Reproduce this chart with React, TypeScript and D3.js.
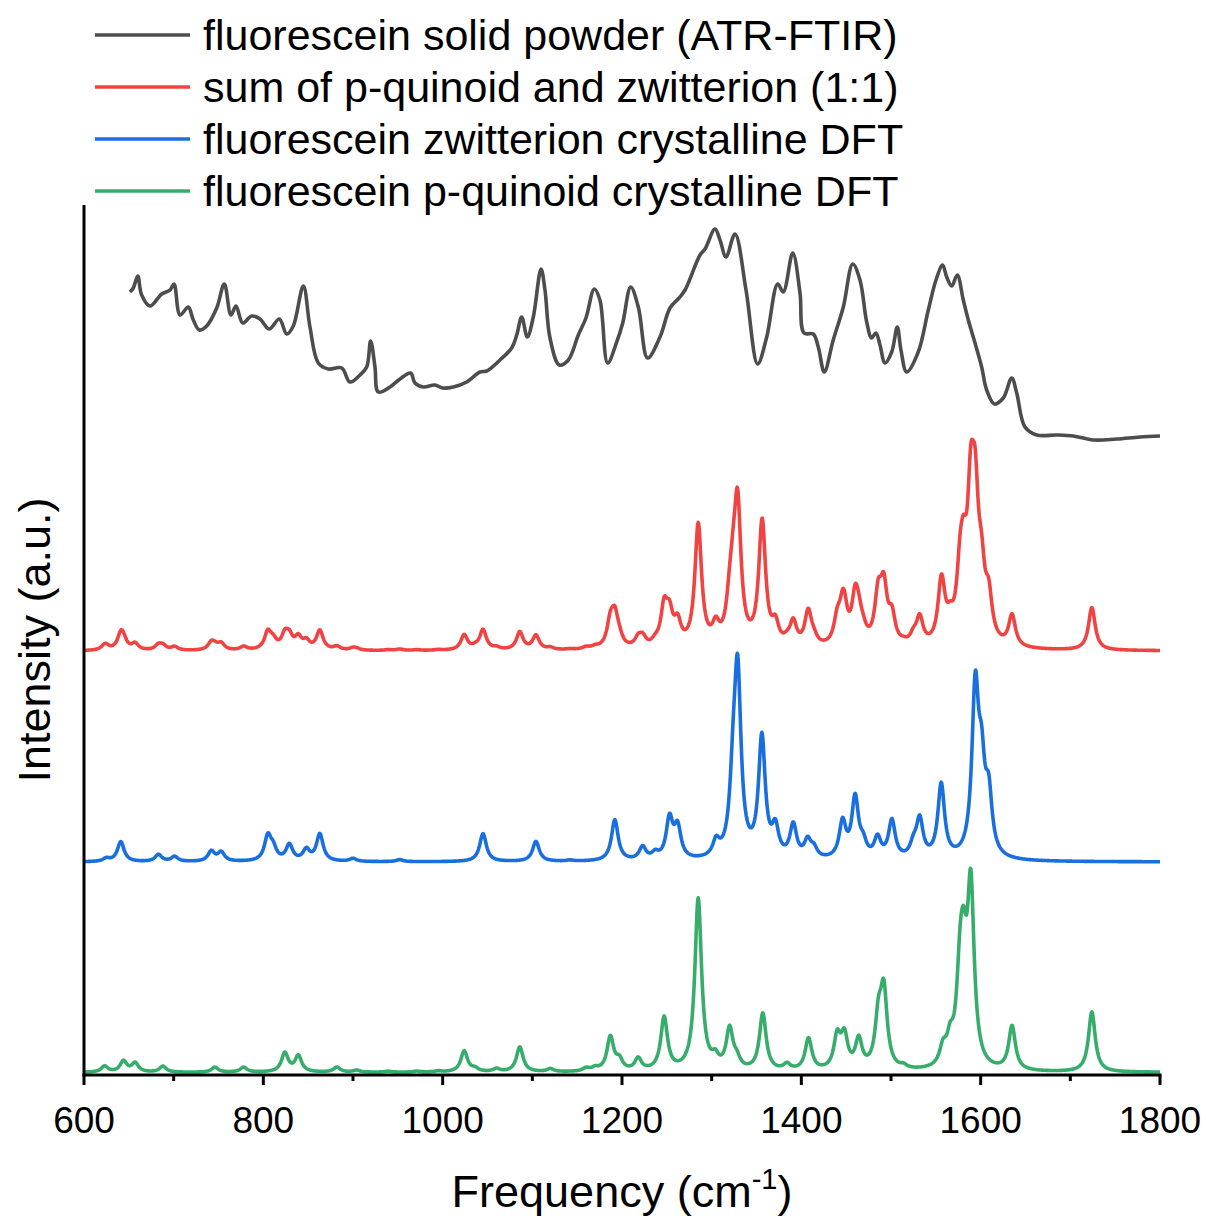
import React from 'react';
import * as d3 from 'd3';

const X_DOMAIN: [number, number] = [600, 1800];
const Y_DOMAIN: [number, number] = [0, 87];
const X_MAJOR = [600, 800, 1000, 1200, 1400, 1600, 1800];
const X_MINOR = [700, 900, 1100, 1300, 1500, 1700];

const LEGEND_LABELS = [
  'fluorescein solid powder (ATR-FTIR)',
  'sum of p-quinoid and zwitterion (1:1)',
  'fluorescein zwitterion crystalline DFT',
  'fluorescein p-quinoid crystalline DFT',
];
const COLORS = ['#4d4d4d', '#f24343', '#1a6fdf', '#37ad6b'];

// ATR-FTIR experimental spectrum (frequency, intensity a.u.)
const ATR_FREQ = [651.3, 655.0, 659.9, 664.3, 673.6, 686.7, 695.9, 700.4, 707.1, 716.3, 721.9, 728.6, 736.8, 748.0, 756.5, 763.9, 769.5, 777.0, 787.0, 796.3, 806.7, 817.8, 826.1, 833.4, 844.6, 852.0, 861.3, 872.4, 887.4, 896.6, 907.8, 915.3, 919.7, 924.5, 928.2, 941.3, 952.4, 964.3, 969.1, 978.4, 991.4, 1000.0, 1011.9, 1026.8, 1041.6, 1049.1, 1063.9, 1077.0, 1082.6, 1088.1, 1094.4, 1101.1, 1109.7, 1114.1, 1119.7, 1130.1, 1140.1, 1151.3, 1159.8, 1169.1, 1175.4, 1184.0, 1194.1, 1200.8, 1209.7, 1218.2, 1228.6, 1242.4, 1253.5, 1263.6, 1270.3, 1287.0, 1292.6, 1303.7, 1309.3, 1316.0, 1326.0, 1338.3, 1351.3, 1361.4, 1373.6, 1379.9, 1390.4, 1398.5, 1403.0, 1413.3, 1418.9, 1425.6, 1435.6, 1446.8, 1457.3, 1465.4, 1472.9, 1478.4, 1483.2, 1487.7, 1493.3, 1500.8, 1507.0, 1511.1, 1517.5, 1530.4, 1541.6, 1550.2, 1557.6, 1562.1, 1567.7, 1573.9, 1580.6, 1586.2, 1593.7, 1601.1, 1606.7, 1615.2, 1625.2, 1634.6, 1640.2, 1649.4, 1662.5, 1684.8, 1703.3, 1725.6, 1751.7, 1777.7, 1800.0];
const ATR_INT = [78.3, 78.7, 79.9, 78.0, 76.9, 78.1, 78.5, 79.1, 76.0, 76.8, 75.5, 74.5, 74.9, 76.7, 79.1, 76.0, 76.9, 75.2, 75.9, 75.6, 74.6, 75.6, 74.1, 74.9, 78.9, 74.8, 71.2, 70.6, 70.7, 69.3, 70.0, 70.8, 73.4, 70.8, 68.3, 68.8, 69.6, 70.2, 69.2, 68.8, 69.0, 68.7, 68.8, 69.3, 70.3, 70.4, 71.5, 72.7, 74.0, 75.8, 73.8, 75.8, 80.6, 78.5, 73.7, 71.0, 71.5, 74.0, 75.7, 78.6, 77.5, 71.2, 73.3, 75.2, 78.8, 76.8, 71.7, 73.8, 76.7, 77.7, 78.5, 82.0, 82.6, 84.6, 83.5, 81.8, 84.1, 78.5, 71.1, 73.8, 79.1, 78.3, 82.2, 78.2, 74.2, 74.1, 72.8, 70.3, 73.5, 76.8, 81.1, 79.5, 75.3, 73.7, 74.2, 73.0, 71.2, 72.3, 74.8, 72.5, 70.3, 72.3, 76.5, 79.5, 81.0, 79.8, 78.9, 80.0, 77.5, 75.5, 73.2, 70.8, 68.5, 67.1, 67.7, 69.7, 68.2, 64.8, 64.0, 64.0, 63.9, 63.5, 63.6, 63.8, 63.9];

// DFT computed bands: [frequency cm-1, intensity a.u.]
const ZW_PEAKS: [number, number][] = [
  [625, 0.3], [641, 2.0], [683, 0.7], [701, 0.5], [742, 1.0], [753, 0.9], [805, 2.4], [811, 1.1],
  [829, 1.6], [848, 1.1], [863, 2.7], [900, 0.3], [952, 0.2], [1045, 2.8], [1104, 2.0], [1142, 0.1],
  [1192, 4.1], [1223, 1.3], [1237, 0.6], [1253, 4.0], [1262, 3.1], [1305, 1.5], [1324, 6.0], [1329, 17.6],
  [1356, 12.0], [1371, 2.8], [1391, 3.3], [1407, 1.7], [1414, 0.9], [1446, 3.6], [1460, 6.0], [1469, 1.3],
  [1485, 2.0], [1501, 3.8], [1525, 1.2], [1532, 3.8], [1556, 7.4], [1594, 16.3], [1601, 7.5], [1609, 5.6],
];
const PQ_PEAKS: [number, number][] = [
  [623, 0.6], [644, 1.1], [657, 0.9], [688, 0.6], [746, 0.5], [778, 0.5], [824, 1.9], [839, 1.6],
  [882, 0.5], [904, 0.2], [939, 0.1], [971, 0.1], [995, 0.1], [1024, 2.1], [1036, 0.3], [1060, 0.3],
  [1086, 2.5], [1120, 0.3], [1160, 0.3], [1170, 0.3], [1187, 3.4], [1197, 1.0], [1218, 1.2], [1247, 5.3],
  [1285, 17.2], [1304, 1.0], [1320, 4.0], [1328, 0.9], [1357, 5.7], [1384, 0.6], [1408, 3.2], [1440, 3.2],
  [1448, 3.2], [1464, 2.9], [1486, 4.6], [1492, 7.4], [1514, 0.3], [1558, 1.7], [1566, 2.2], [1577, 7.5],
  [1581, 8.0], [1589, 17.3], [1635, 4.4], [1724, 6.0],
];
const FWHM = 9;
const SUM_FACTOR = 0.71;
const OFFSET_PQ = 0.25;
const OFFSET_ZW = 21.3;
const OFFSET_SUM = 42.4;

const GRID_STEP = 0.5;

function broaden(peaks: [number, number][], f: number): number {
  const g = FWHM / 2;
  let s = 0;
  for (const [c, h] of peaks) {
    const d = (f - c) / g;
    s += h / (1 + d * d);
  }
  return s;
}

export default function App() {
  const W = 1206;
  const H = 1216;
  const x = d3.scaleLinear().domain(X_DOMAIN).range([84, 1160]);
  const y = d3.scaleLinear().domain(Y_DOMAIN).range([1075, 205]);

  const grid = d3.range(X_DOMAIN[0], X_DOMAIN[1] + GRID_STEP / 2, GRID_STEP);
  const pq = grid.map((f) => [f, OFFSET_PQ + broaden(PQ_PEAKS, f)] as [number, number]);
  const zw = grid.map((f) => [f, OFFSET_ZW + broaden(ZW_PEAKS, f)] as [number, number]);
  const sum = grid.map((f) => [f, OFFSET_SUM + SUM_FACTOR * (broaden(PQ_PEAKS, f) + broaden(ZW_PEAKS, f))] as [number, number]);
  const atr = ATR_FREQ.map((f, i) => [f, ATR_INT[i]] as [number, number]);

  const line = d3.line<[number, number]>().x((d) => x(d[0])).y((d) => y(d[1]));
  const smooth = d3.line<[number, number]>().x((d) => x(d[0])).y((d) => y(d[1])).curve(d3.curveCatmullRom.alpha(0.5));

  const series = [smooth(atr), line(sum), line(zw), line(pq)];
  const font = "Arial, 'Liberation Sans', sans-serif";

  return (
    <svg width={W} height={H} style={{ position: 'absolute', left: 0, top: 0, background: '#fff' }} fontFamily={font}>
      <rect width={W} height={H} fill="#fff" />
      {series.map((d, i) => (
        <path key={i} d={d || ''} fill="none" stroke={COLORS[i]} strokeWidth={3.6} strokeLinejoin="round" />
      ))}
      {/* axes */}
      <line x1={x(X_DOMAIN[0])} x2={x(X_DOMAIN[0])} y1={y(Y_DOMAIN[1])} y2={y(0) + 1.5} stroke="#000" strokeWidth={3} />
      <line x1={x(X_DOMAIN[0]) - 1.5} x2={x(X_DOMAIN[1]) + 1.5} y1={y(0)} y2={y(0)} stroke="#000" strokeWidth={3} />
      {X_MAJOR.map((t) => (
        <g key={t}>
          <line x1={x(t)} x2={x(t)} y1={y(0)} y2={y(0) + 10} stroke="#000" strokeWidth={3} />
          <text x={x(t)} y={y(0) + 58} textAnchor="middle" fontSize={37} fill="#000">{t}</text>
        </g>
      ))}
      {X_MINOR.map((t) => (
        <line key={t} x1={x(t)} x2={x(t)} y1={y(0)} y2={y(0) + 6} stroke="#000" strokeWidth={3} />
      ))}
      <text x={622} y={1207} textAnchor="middle" fontSize={45} fill="#000">
        Frequency (cm<tspan dy={-18} fontSize={29}>-1</tspan><tspan dy={18}>)</tspan>
      </text>
      <text transform={`translate(50,640) rotate(-90)`} textAnchor="middle" fontSize={45} fill="#000">Intensity (a.u.)</text>
      {/* legend */}
      {LEGEND_LABELS.map((lab, i) => (
        <g key={lab} transform={`translate(0,${35 + i * 52})`}>
          <line x1={95} x2={190} y1={0} y2={0} stroke={COLORS[i]} strokeWidth={3.6} />
          <text x={203} y={15} fontSize={43} fill="#000">{lab}</text>
        </g>
      ))}
    </svg>
  );
}
